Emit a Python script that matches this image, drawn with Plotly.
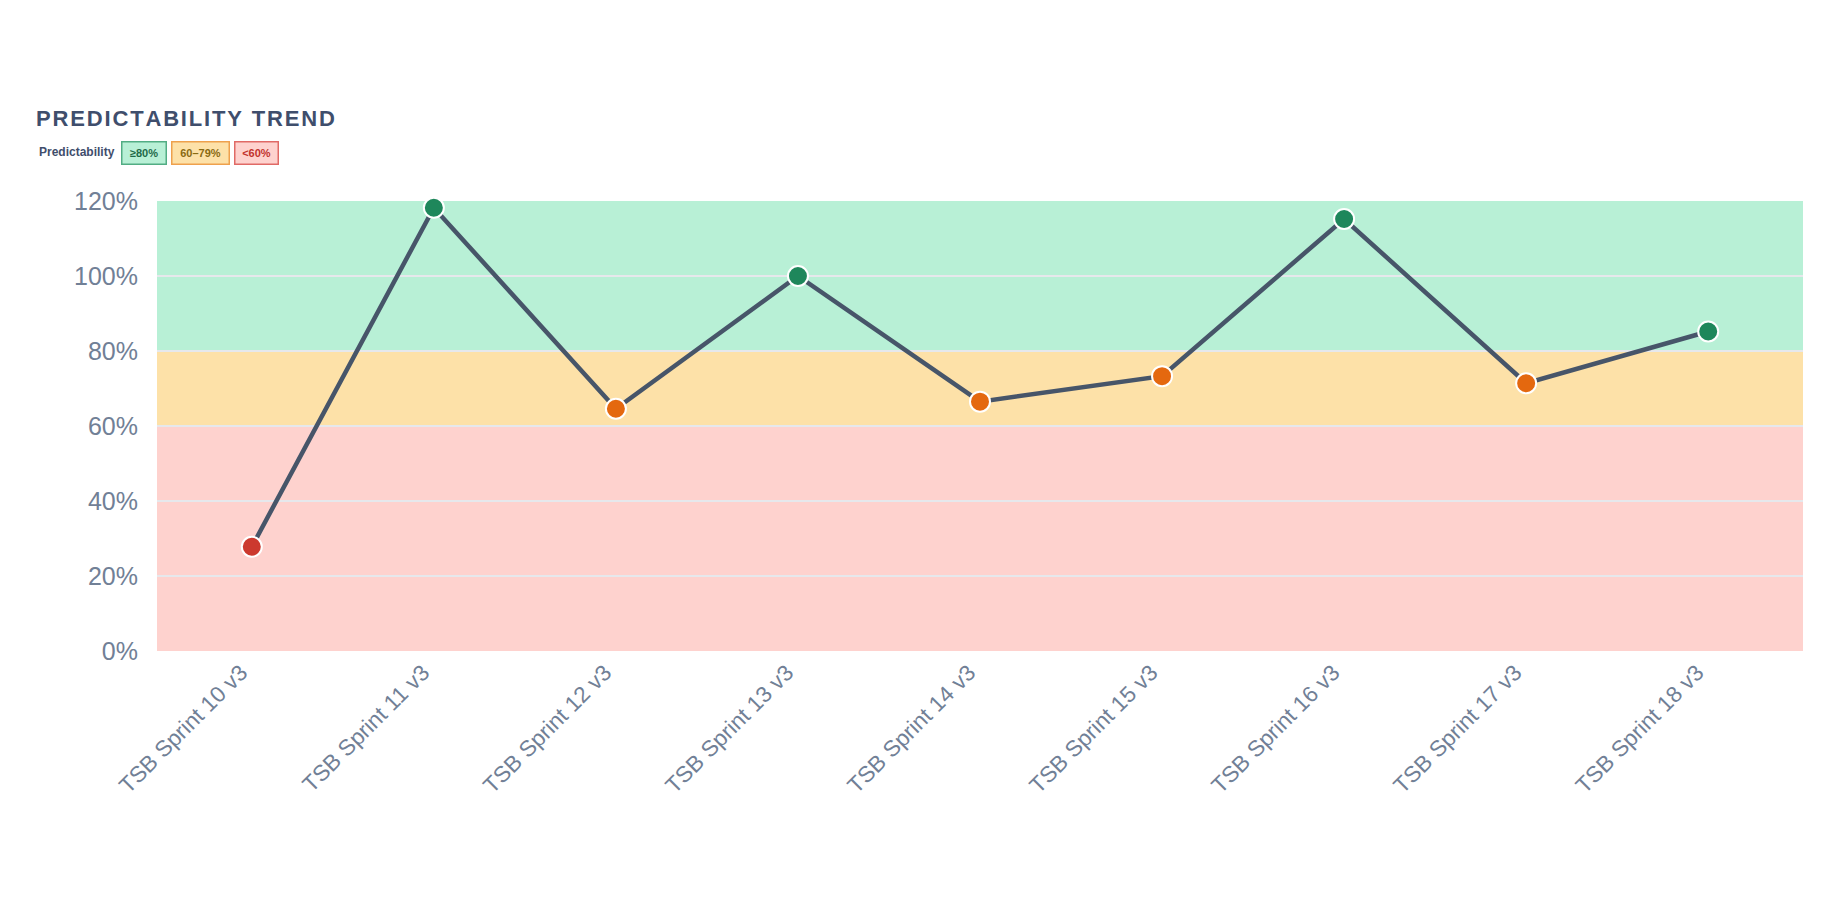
import plotly.graph_objects as go

# sprint data
sprints = [
    "TSB Sprint 10 v3", "TSB Sprint 11 v3", "TSB Sprint 12 v3",
    "TSB Sprint 13 v3", "TSB Sprint 14 v3", "TSB Sprint 15 v3",
    "TSB Sprint 16 v3", "TSB Sprint 17 v3", "TSB Sprint 18 v3",
]
predictability = [27.8, 118.2, 64.6, 100.0, 66.5, 73.3, 115.2, 71.4, 85.2]

y_ticks = [0, 20, 40, 60, 80, 100, 120]
y_tick_labels = [f"{v}%" for v in y_ticks]

# zones: (low, high, fill)
zones = [
    (0, 60, "#fed2ce"),
    (60, 80, "#fde1a8"),
    (80, 120, "#b8f0d6"),
]

W, H = 1840, 900
PAGE = 8  # body margin of the html page
M = dict(l=157 - PAGE, r=37 + PAGE, t=201 - PAGE, b=249 + PAGE)
FONT = "Liberation Sans, Arial, sans-serif"
TITLE_COLOR = "#3f4e6c"
TICK_COLOR = "#718096"


def px_x(px):
    return (px - PAGE - M["l"]) / (W - M["l"] - M["r"])


def px_y(py):
    return (H - M["b"] - (py - PAGE)) / (H - M["t"] - M["b"])


def point_color(v):
    if v >= 80:
        return "#1e875b"
    if v >= 60:
        return "#e4680f"
    return "#cc392e"


fig = go.Figure()

for lo, hi, fill in zones:
    fig.add_shape(
        type="rect", xref="paper", yref="y", x0=0, x1=1, y0=lo, y1=hi,
        fillcolor=fill, line=dict(width=0), layer="below",
    )

fig.add_trace(go.Scatter(
    x=sprints,
    y=predictability,
    mode="lines+markers",
    line=dict(color="#475569", width=4.5),
    marker=dict(
        size=20,
        color=[point_color(v) for v in predictability],
        line=dict(color="white", width=2),
    ),
    cliponaxis=False,
    hovertemplate="%{x}: %{y:.0f}%<extra></extra>",
    showlegend=False,
))

# legend badges
badges = [
    ("≥80%", 143.5, 35, "#b8f0d6", "#52ad84", "#1f6a49"),
    ("60–79%", 200, 48, "#fde1a8", "#eea14d", "#8a6a12"),
    ("<60%", 256, 34, "#fed2ce", "#e06a66", "#c2332d"),
]
fig.add_annotation(
    text="<b>Predictability</b>", xref="paper", yref="paper",
    x=px_x(37), y=px_y(152), xanchor="left", yanchor="middle",
    showarrow=False, font=dict(family=FONT, size=12, color=TITLE_COLOR),
)
for label, cx, w, bg, border, fg in badges:
    fig.add_annotation(
        text=f"<b>{label}</b>", xref="paper", yref="paper",
        x=px_x(cx), y=px_y(153.5), xanchor="center", yanchor="middle",
        showarrow=False, width=w, height=13, borderpad=4,
        bgcolor=bg, bordercolor=border, borderwidth=1.5,
        font=dict(family=FONT, size=11, color=fg),
    )

title = "\u200a".join("PREDICTABILITY TREND")

fig.update_layout(
    width=W,
    height=H,
    margin=M,
    paper_bgcolor="white",
    plot_bgcolor="white",
    font=dict(family=FONT, color=TICK_COLOR),
    title=dict(
        text=f"<b>{title}</b>",
        xref="container", yref="container",
        x=(36 - PAGE) / W, y=1 - (118 - PAGE) / H,
        xanchor="left", yanchor="middle",
        font=dict(family=FONT, size=22, color=TITLE_COLOR),
    ),
    xaxis=dict(
        type="category",
        tickangle=-45,
        tickfont=dict(size=22.5, color=TICK_COLOR),
        showgrid=False,
        showline=False,
        zeroline=False,
        ticklabelshift=-11,
        ticklabelstandoff=3,
    ),
    yaxis=dict(
        range=[0, 120],
        tickmode="array",
        tickvals=y_ticks,
        ticktext=y_tick_labels,
        tickfont=dict(size=25, color=TICK_COLOR),
        showgrid=True,
        gridcolor="#e6e8ec",
        gridwidth=2,
        zeroline=False,
        showline=False,
        ticklabelstandoff=18,
    ),
    hovermode="closest",
)

fig.write_html("out.html")
